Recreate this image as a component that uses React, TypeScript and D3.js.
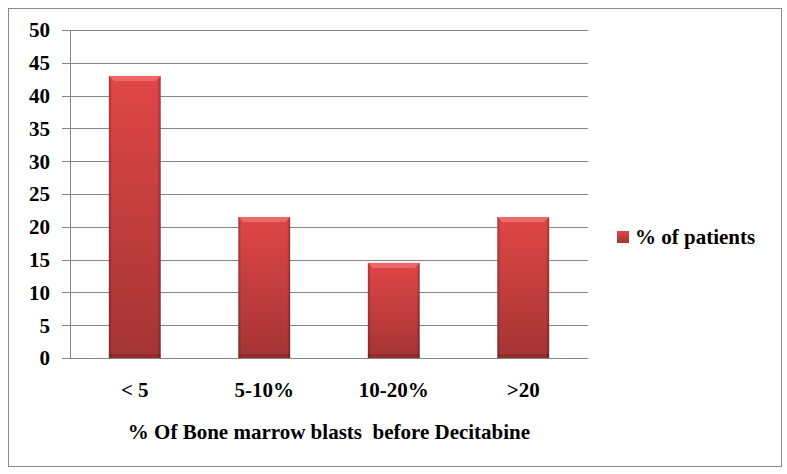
import React from "react";
import * as d3 from "d3";

const categories = ["< 5", "5-10%", "10-20%", ">20"];
const values = [43, 21.5, 14.5, 21.5];
const yTicks = [0, 5, 10, 15, 20, 25, 30, 35, 40, 45, 50];
const seriesName = "% of patients";
const xTitle = "% Of Bone marrow blasts  before Decitabine";

export default function App() {
  const W = 787, H = 474;
  const left = 70, right = 588, top = 30, bottom = 358;
  const x = d3.scaleBand<string>().domain(categories).range([left, right]).paddingInner(0.6).paddingOuter(0.3);
  const y = d3.scaleLinear().domain([0, 50]).range([bottom, top]);
  const fs: React.CSSProperties = {
    fontFamily: '"Liberation Serif", Tinos, "Times New Roman", "DejaVu Serif", serif',
    fontWeight: 700,
    fontSize: "21px",
    whiteSpace: "pre",
  };
  return (
    <svg width={W} height={H} style={{ position: "absolute", left: 0, top: 0 }}>
      <defs>
        <linearGradient id="barV" x1="0" y1="0" x2="0" y2="1">
          <stop offset="0" stopColor="#e04646" />
          <stop offset="1" stopColor="#a43434" />
        </linearGradient>
        <linearGradient id="barH" x1="0" y1="0" x2="1" y2="0">
          <stop offset="0" stopColor="#000" stopOpacity="0.25" />
          <stop offset="0.06" stopColor="#000" stopOpacity="0" />
          <stop offset="0.94" stopColor="#000" stopOpacity="0" />
          <stop offset="1" stopColor="#000" stopOpacity="0.3" />
        </linearGradient>
      </defs>
      <rect x={8.5} y={8.5} width={773} height={458} fill="#fff" stroke="#8a8a8a" strokeWidth={1} />
      {yTicks.map((t) => (
        <g key={t}>
          <line x1={62} x2={right} y1={Math.round(y(t)) + 0.5} y2={Math.round(y(t)) + 0.5} stroke="#868686" strokeWidth={1} />
          <text x={50} y={y(t)} dy="0.35em" textAnchor="end" style={fs} fill="#000">{t}</text>
        </g>
      ))}
      <line x1={left + 0.5} x2={left + 0.5} y1={top} y2={bottom} stroke="#868686" strokeWidth={1} />
      {categories.map((c, i) => {
        const bx = x(c)!;
        const bw = x.bandwidth();
        const by = y(values[i]);
        const bh = bottom - by;
        return (
          <g key={c}>
            <rect x={bx} y={by} width={bw} height={bh} fill="url(#barV)" />
            <rect x={bx} y={by} width={bw} height={bh} fill="url(#barH)" />
            <polygon points={`${bx},${by} ${bx + bw},${by} ${bx + bw - 5},${by + 5} ${bx + 5},${by + 5}`} fill="#f07070" opacity={0.8} />
            <rect x={bx} y={bottom - 4} width={bw} height={4} fill="#000" opacity={0.12} />
            <text x={bx + bw / 2} y={390} dy="0.35em" textAnchor="middle" style={fs} fill="#000">{c}</text>
          </g>
        );
      })}
      <text x={(left + right) / 2} y={432} dy="0.35em" textAnchor="middle" style={fs} fill="#000">{xTitle}</text>
      <rect x={617} y={231} width={12} height={12} fill="url(#barV)" />
      <text x={635} y={237} dy="0.35em" style={fs} fill="#000">{seriesName}</text>
    </svg>
  );
}
